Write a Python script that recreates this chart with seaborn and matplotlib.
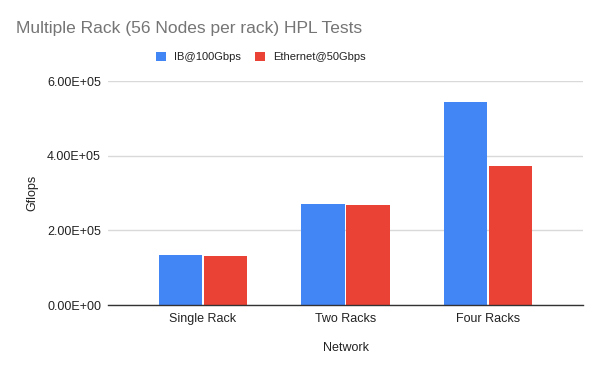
import matplotlib
matplotlib.use("Agg")
import matplotlib.pyplot as plt
import seaborn as sns
import pandas as pd
from matplotlib.patches import Patch

categories = ["Single Rack", "Two Racks", "Four Racks"]
series_names = ["IB@100Gbps", "Ethernet@50Gbps"]
ib_values = [1.34e5, 2.715e5, 5.45e5]
eth_values = [1.31e5, 2.69e5, 3.73e5]
y_ticks = [0, 2e5, 4e5, 6e5]
y_tick_labels = ["0.00E+00", "2.00E+05", "4.00E+05", "6.00E+05"]
colors = ["#4285F4", "#EA4335"]

df = pd.DataFrame({
    "Network": categories * 2,
    "Gflops": ib_values + eth_values,
    "Series": [series_names[0]] * 3 + [series_names[1]] * 3,
})

sns.set_theme(style="white")
plt.rcParams["font.family"] = ["Liberation Sans", "DejaVu Sans"]

fig = plt.figure(figsize=(6.02, 3.72), dpi=100)
ax = fig.add_axes([108 / 602, (372 - 305) / 372, (583 - 108) / 602, (305 - 81.3) / 372])

sns.barplot(data=df, x="Network", y="Gflops", hue="Series", order=categories,
            hue_order=series_names, palette=colors, width=0.63, gap=0.04,
            saturation=1, edgecolor="none", ax=ax, legend=False)

ax.set_xlim(-0.665, 2.665)
ax.set_ylim(0, 6e5)
ax.set_yticks(y_ticks)
ax.set_yticklabels(y_tick_labels)
ax.grid(axis="y", color="#d9d9d9", linewidth=1)
ax.set_axisbelow(True)
for s in ["top", "right", "left"]:
    ax.spines[s].set_visible(False)
ax.spines["bottom"].set_color("#333333")
ax.spines["bottom"].set_linewidth(1)
ax.tick_params(axis="both", length=0, labelsize=9, colors="#222222")
ax.tick_params(axis="y", pad=5)
ax.tick_params(axis="x", pad=6)
ax.set_xlabel("Network", fontsize=9, color="#222222", labelpad=12)
ax.set_ylabel("Gflops", fontsize=9, color="#222222", labelpad=6)

fig.text(16 / 602, 1 - 28 / 372, "Multiple Rack (56 Nodes per rack) HPL Tests",
         fontsize=12.5, color="#757575", ha="left", va="center")

handles = [Patch(facecolor=c, edgecolor="none") for c in colors]
fig.legend(handles, series_names, loc="center", bbox_to_anchor=(261 / 602, 1 - 57 / 372),
           ncol=2, frameon=False, fontsize=8, handlelength=0.9, handleheight=0.9,
           handletextpad=0.72, columnspacing=1.26, labelcolor="#222222")

fig.savefig("out.png", dpi=100)
